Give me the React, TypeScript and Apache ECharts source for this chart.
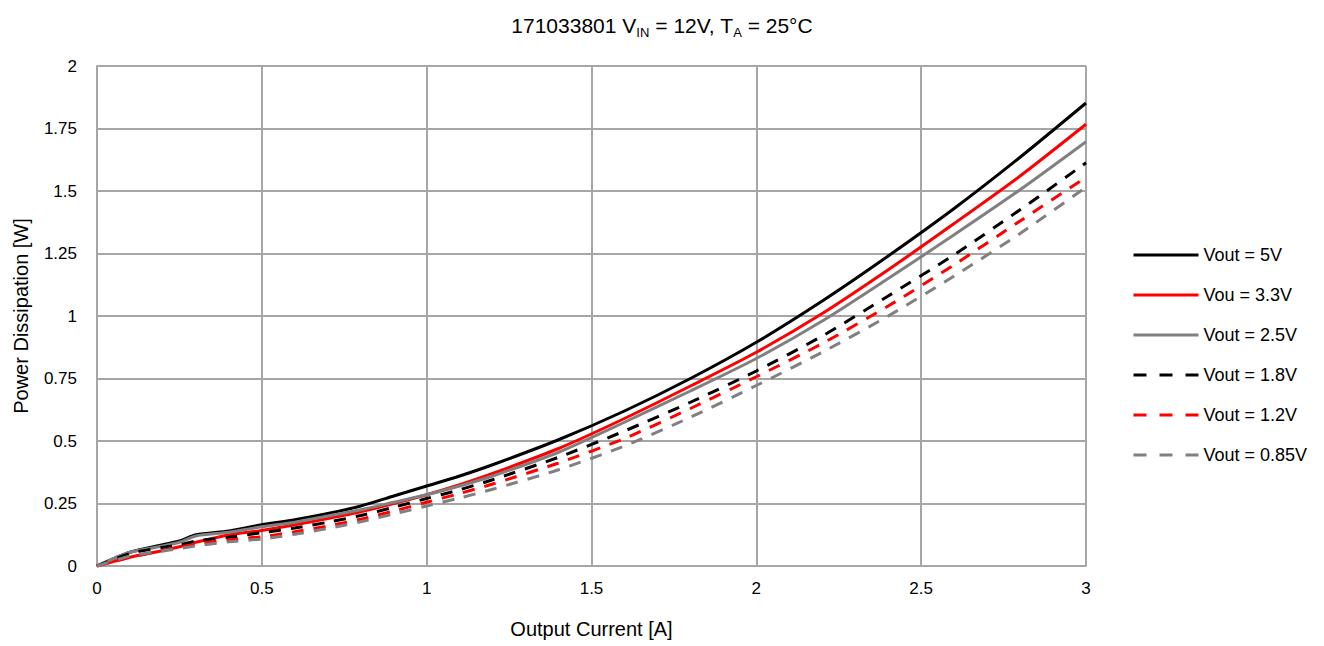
import React, { useEffect, useRef } from "react";
import * as echarts from "echarts";

const currents = [0, 0.1, 0.2, 0.25, 0.3, 0.4, 0.5, 0.6, 0.7, 0.8, 0.9, 1.0, 1.1, 1.2, 1.4, 1.6, 1.8, 2.0, 2.2, 2.4, 2.6, 2.8, 3.0];

const vout5 = [0, 0.055, 0.085, 0.1, 0.125, 0.14, 0.165, 0.185, 0.21, 0.24, 0.28, 0.32, 0.36, 0.405, 0.505, 0.62, 0.75, 0.895, 1.06, 1.24, 1.43, 1.635, 1.852];
const vout33 = [0, 0.035, 0.062, 0.077, 0.095, 0.124, 0.142, 0.165, 0.19, 0.217, 0.25, 0.285, 0.325, 0.37, 0.47, 0.59, 0.72, 0.855, 1.01, 1.185, 1.37, 1.56, 1.767];
const vout25 = [0, 0.055, 0.08, 0.095, 0.12, 0.135, 0.157, 0.175, 0.2, 0.225, 0.255, 0.285, 0.32, 0.36, 0.455, 0.575, 0.7, 0.83, 0.98, 1.15, 1.325, 1.505, 1.697];
const vout18 = [0, 0.05, 0.075, 0.085, 0.1, 0.115, 0.133, 0.152, 0.175, 0.202, 0.235, 0.27, 0.305, 0.345, 0.435, 0.54, 0.655, 0.78, 0.92, 1.08, 1.245, 1.425, 1.613];
const vout12 = [0, 0.035, 0.062, 0.075, 0.088, 0.105, 0.117, 0.137, 0.16, 0.187, 0.22, 0.255, 0.29, 0.328, 0.412, 0.51, 0.63, 0.757, 0.89, 1.04, 1.205, 1.38, 1.555];
const vout085 = [0, 0.04, 0.06, 0.07, 0.08, 0.097, 0.108, 0.127, 0.15, 0.177, 0.208, 0.24, 0.272, 0.307, 0.385, 0.48, 0.595, 0.722, 0.855, 1.0, 1.16, 1.33, 1.515];

const seriesNames = ["Vout = 5V", "Vou = 3.3V", "Vout = 2.5V", "Vout = 1.8V", "Vout = 1.2V", "Vout = 0.85V"];
const seriesValues = [vout5, vout33, vout25, vout18, vout12, vout085];
const seriesColors = ["#000000", "#ff0000", "#808080", "#000000", "#ff0000", "#808080"];
const seriesDashed = [false, false, false, true, true, true];

const FONT = "'Liberation Sans', Arial, sans-serif";

export default function App() {
  const ref = useRef<HTMLDivElement>(null);
  useEffect(() => {
    document.body.style.margin = "0";
    if (!ref.current) return;
    const chart = echarts.init(ref.current, null, { renderer: "svg" });
    const series = seriesNames.map((name, i) => ({
      name,
      type: "line",
      symbol: "none",
      smooth: 0.25,
      data: currents.map((c, j) => [c, seriesValues[i][j]]),
      lineStyle: {
        color: seriesColors[i],
        width: 3,
        type: seriesDashed[i] ? [12, 10] : "solid",
      },
      itemStyle: { color: seriesColors[i] },
    }));
    chart.setOption({
      animation: false,
      backgroundColor: "#ffffff",
      textStyle: { fontFamily: FONT },
      title: {
        left: 657,
        top: 6,
        textAlign: "center",
        text: "{a|171033801 V}{s|IN}{a| = 12V, T}{s|A}{a| = 25°C}",
        textStyle: {
          fontWeight: "normal",
          rich: {
            a: { fontSize: 21, lineHeight: 28, color: "#000", fontFamily: FONT, fontWeight: "normal" },
            s: { fontSize: 13, lineHeight: 13, verticalAlign: "bottom", color: "#000", fontFamily: FONT, fontWeight: "normal" },
          },
        },
      },
      legend: {
        orient: "vertical",
        left: 1132,
        top: 246,
        padding: 0,
        itemWidth: 65,
        itemHeight: 20,
        itemGap: 22,
        textStyle: { fontSize: 18, color: "#000", fontFamily: FONT },
        data: seriesNames.map((name, i) => ({
          name,
          itemStyle: { color: "rgba(0,0,0,0)", borderColor: "rgba(0,0,0,0)", borderWidth: 0, opacity: 0 },
          lineStyle: { color: seriesColors[i], width: 3, type: seriesDashed[i] ? [13, 13] : "solid" },
        })),
      },
      grid: { left: 97, right: 238, top: 66, bottom: 80, containLabel: false, outerBoundsMode: "none" },
      xAxis: {
        type: "value",
        min: 0,
        max: 3,
        interval: 0.5,
        name: "Output Current [A]",
        nameLocation: "middle",
        nameGap: 53,
        nameTextStyle: { fontSize: 20, color: "#000", fontFamily: FONT },
        axisLine: { lineStyle: { color: "#a6a6a6", width: 2 } },
        axisTick: { show: false },
        axisLabel: { fontSize: 17, color: "#000", margin: 14, fontFamily: FONT },
        splitLine: { show: true, lineStyle: { color: "#a6a6a6", width: 2 } },
      },
      yAxis: {
        type: "value",
        min: 0,
        max: 2,
        interval: 0.25,
        name: "Power Dissipation [W]",
        nameLocation: "middle",
        nameGap: 66,
        nameTextStyle: { fontSize: 20, color: "#000", fontFamily: FONT },
        axisLine: { show: true, lineStyle: { color: "#a6a6a6", width: 2 } },
        axisTick: { show: false },
        axisLabel: { fontSize: 17, color: "#000", margin: 20, fontFamily: FONT },
        splitLine: { show: true, lineStyle: { color: "#a6a6a6", width: 2 } },
      },
      series,
    });
    return () => chart.dispose();
  }, []);
  return <div ref={ref} style={{ width: 1324, height: 646 }} />;
}
